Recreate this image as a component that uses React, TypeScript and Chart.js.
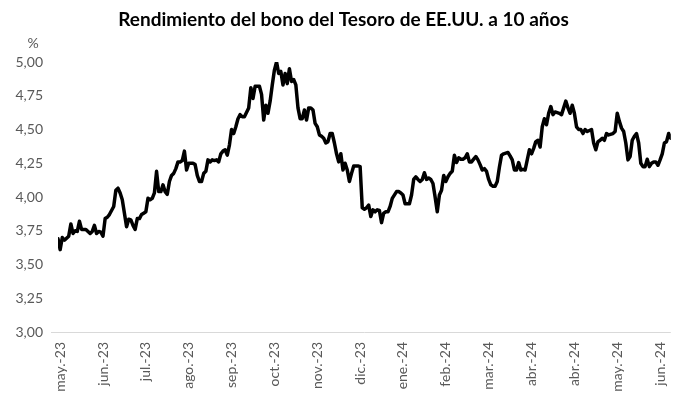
import { useEffect, useRef } from 'react';
import { Chart, registerables } from 'chart.js';

Chart.register(...registerables);

const TITLE = 'Rendimiento del bono del Tesoro de EE.UU. a 10 años';
const UNIT = '%';

const tickLabels = [
  'may.-23', 'jun.-23', 'jul.-23', 'ago.-23', 'sep.-23', 'oct.-23', 'nov.-23', 'dic.-23',
  'ene.-24', 'feb.-24', 'mar.-24', 'abr.-24', 'abr.-24', 'may.-24', 'jun.-24',
];
const tickDays = [1, 21, 41, 61, 81, 101, 121, 141, 161, 181, 201, 221, 241, 261, 281];

const days = [
  0, 1, 2, 3, 5, 6, 7, 8, 9, 10, 11, 12, 13, 15, 16, 17, 18, 19, 20, 21, 22, 23, 24, 26, 27, 28, 29, 30,
  31, 32, 33, 34, 35, 36, 37, 38, 39, 40, 41, 42, 43, 44, 45, 46, 47, 48, 49, 50, 51, 52, 53, 54, 55, 56,
  57, 58, 59, 60, 61, 63, 64, 65, 66, 67, 68, 69, 70, 71, 72, 73, 74, 75, 76, 77, 78, 79, 80, 81, 82, 83,
  84, 85, 86, 87, 89, 90, 91, 92, 94, 95, 96, 97, 98, 99, 100, 101, 102, 103, 104, 105, 106, 107, 108,
  109, 110, 111, 112, 113, 114, 115, 116, 117, 118, 119, 120, 121, 122, 123, 124, 125, 126, 127, 128,
  129, 130, 131, 132, 133, 134, 135, 136, 137, 138, 140, 141, 142, 143, 144, 145, 146, 147, 148, 149,
  150, 151, 152, 153, 154, 155, 156, 158, 159, 160, 161, 162, 164, 165, 166, 167, 168, 169, 170, 171,
  172, 173, 174, 175, 176, 177, 178, 179, 180, 181, 182, 183, 184, 185, 186, 187, 188, 189, 190, 191,
  192, 193, 194, 195, 196, 197, 198, 199, 200, 201, 202, 203, 204, 205, 206, 207, 208, 210, 211, 212,
  213, 214, 215, 216, 217, 218, 219, 220, 221, 222, 223, 224, 225, 226, 227, 228, 229, 230, 231, 232,
  234, 235, 236, 237, 238, 239, 240, 241, 242, 243, 244, 245, 246, 247, 249, 250, 251, 252, 253, 254,
  255, 256, 257, 259, 260, 261, 262, 263, 264, 265, 266, 267, 268, 269, 270, 271, 272, 273, 274, 275,
  276, 277, 278, 279, 280, 281, 282, 283, 284, 285, 286,
];

const yields = [
  3.69, 3.61, 3.70, 3.68, 3.71, 3.80, 3.73, 3.75, 3.745, 3.82, 3.76, 3.76, 3.76, 3.73, 3.745, 3.79, 3.73,
  3.745, 3.74, 3.71, 3.84, 3.85, 3.87, 3.93, 4.05, 4.065, 4.03, 3.98,
  3.88, 3.78, 3.835, 3.83, 3.79, 3.76, 3.84, 3.84, 3.87, 3.88, 3.89, 3.99, 3.98, 3.99, 4.03, 4.19, 4.04,
  4.04, 4.09, 4.04, 4.02, 4.115, 4.16, 4.175, 4.21, 4.26,
  4.26, 4.27, 4.34, 4.20, 4.25, 4.25, 4.24, 4.16, 4.115, 4.115, 4.175, 4.19, 4.275, 4.26, 4.275, 4.27,
  4.275, 4.26, 4.32, 4.34, 4.35, 4.31, 4.385, 4.50, 4.47, 4.52,
  4.58, 4.61, 4.595, 4.595, 4.66, 4.81, 4.73, 4.82, 4.82, 4.76, 4.57, 4.68, 4.62, 4.71, 4.83, 4.94, 5.00,
  4.915, 4.93, 4.83, 4.915, 4.84, 4.95,
  4.855, 4.87, 4.83, 4.66, 4.58, 4.58, 4.645, 4.57, 4.66, 4.66, 4.645, 4.545, 4.52, 4.46, 4.45, 4.435,
  4.40, 4.41, 4.47, 4.47,
  4.40, 4.32, 4.26, 4.32, 4.20, 4.25, 4.20, 4.115, 4.175, 4.23, 4.23, 4.225, 3.92, 3.91, 3.92, 3.94,
  3.855, 3.905, 3.89, 3.905,
  3.90, 3.81, 3.88, 3.89, 3.89, 3.93, 3.99, 4.04, 4.04, 4.03, 4.015, 3.95, 3.95, 4.015, 4.13, 4.15, 4.13,
  4.115, 4.13, 4.18,
  4.13, 4.14, 4.13, 4.10, 4.00, 3.89, 4.015, 4.05, 4.16, 4.115, 4.15, 4.175, 4.19, 4.31, 4.255, 4.29,
  4.28, 4.28, 4.29, 4.32,
  4.26, 4.26, 4.28, 4.30, 4.275, 4.24, 4.20, 4.21, 4.19, 4.13, 4.09, 4.08, 4.08, 4.115, 4.22, 4.31, 4.32,
  4.33, 4.305, 4.275,
  4.20, 4.20, 4.255, 4.20, 4.205, 4.20, 4.275, 4.35, 4.32, 4.36, 4.41, 4.42, 4.37, 4.52, 4.58, 4.535,
  4.62, 4.67, 4.61, 4.63,
  4.62, 4.61, 4.66, 4.71, 4.66, 4.62, 4.68, 4.62, 4.52, 4.50, 4.50, 4.47, 4.50, 4.485, 4.50, 4.40, 4.35,
  4.41, 4.42, 4.435,
  4.42, 4.47, 4.46, 4.47, 4.485, 4.62, 4.56, 4.51, 4.485, 4.40, 4.275, 4.30, 4.42, 4.45, 4.47, 4.40,
  4.25, 4.225, 4.225, 4.28,
  4.225, 4.25, 4.26, 4.26, 4.235, 4.275, 4.32, 4.40, 4.41, 4.47, 4.435,
];

const FONT = 'Lato, "Open Sans", sans-serif';

const titlePlugin = {
  id: 'customTitle',
  afterDraw(chart: any) {
    const ctx = chart.ctx;
    ctx.save();
    ctx.font = `bold 19px ${FONT}`;
    ctx.fillStyle = '#000000';
    ctx.textAlign = 'center';
    ctx.textBaseline = 'middle';
    ctx.fillText(TITLE, chart.width / 2, 20);
    ctx.font = `14px ${FONT}`;
    ctx.fillStyle = '#595959';
    ctx.fillText(UNIT, 33, 43);
    ctx.restore();
  },
};

export default function App() {
  const ref = useRef<HTMLCanvasElement | null>(null);

  useEffect(() => {
    if (!ref.current) return;
    const points = days.map((d, i) => ({ x: d, y: yields[i] }));
    const chart = new Chart(ref.current, {
      type: 'line',
      data: {
        datasets: [
          {
            data: points,
            borderColor: '#000000',
            borderWidth: 3.5,
            borderJoinStyle: 'round',
            borderCapStyle: 'round',
            pointRadius: 0,
            tension: 0,
            fill: false,
          },
        ],
      },
      options: {
        animation: false,
        responsive: false,
        layout: { padding: { top: 62, right: 6, left: 0, bottom: 0 } },
        plugins: {
          legend: { display: false },
          title: { display: false },
          tooltip: { enabled: false },
        },
        scales: {
          x: {
            type: 'linear',
            min: 0,
            max: 286,
            afterBuildTicks: (axis: any) => {
              axis.ticks = tickDays.map((v) => ({ value: v }));
            },
            afterFit: (scale: any) => {
              scale.height = 67;
            },
            grid: { display: false, drawTicks: false, tickLength: 0 },
            border: { display: false },
            ticks: {
              autoSkip: false,
              maxRotation: 90,
              minRotation: 90,
              padding: 10,
              color: '#595959',
              font: { family: FONT, size: 14 },
              callback: (value: any) => {
                const i = tickDays.indexOf(Number(value));
                return i >= 0 ? tickLabels[i] : '';
              },
            },
          },
          y: {
            min: 3,
            max: 5,
            afterFit: (scale: any) => {
              scale.width = 58;
            },
            border: { display: false },
            grid: {
              drawTicks: true,
              tickLength: 7,
              lineWidth: 1,
              color: (c: any) => (c.tick && Math.abs(c.tick.value - 3) < 1e-9 ? '#d9d9d9' : 'rgba(0,0,0,0)'),
            },
            ticks: {
              stepSize: 0.25,
              padding: 8,
              color: '#595959',
              font: { family: FONT, size: 14 },
              callback: (v: any) => Number(v).toFixed(2).replace('.', ','),
            },
          },
        },
      },
      plugins: [titlePlugin],
    });
    return () => chart.destroy();
  }, []);

  return (
    <div style={{ position: 'fixed', left: 0, top: 0, width: 687, height: 399, background: '#ffffff' }}>
      <canvas ref={ref} width={687} height={399} />
    </div>
  );
}
